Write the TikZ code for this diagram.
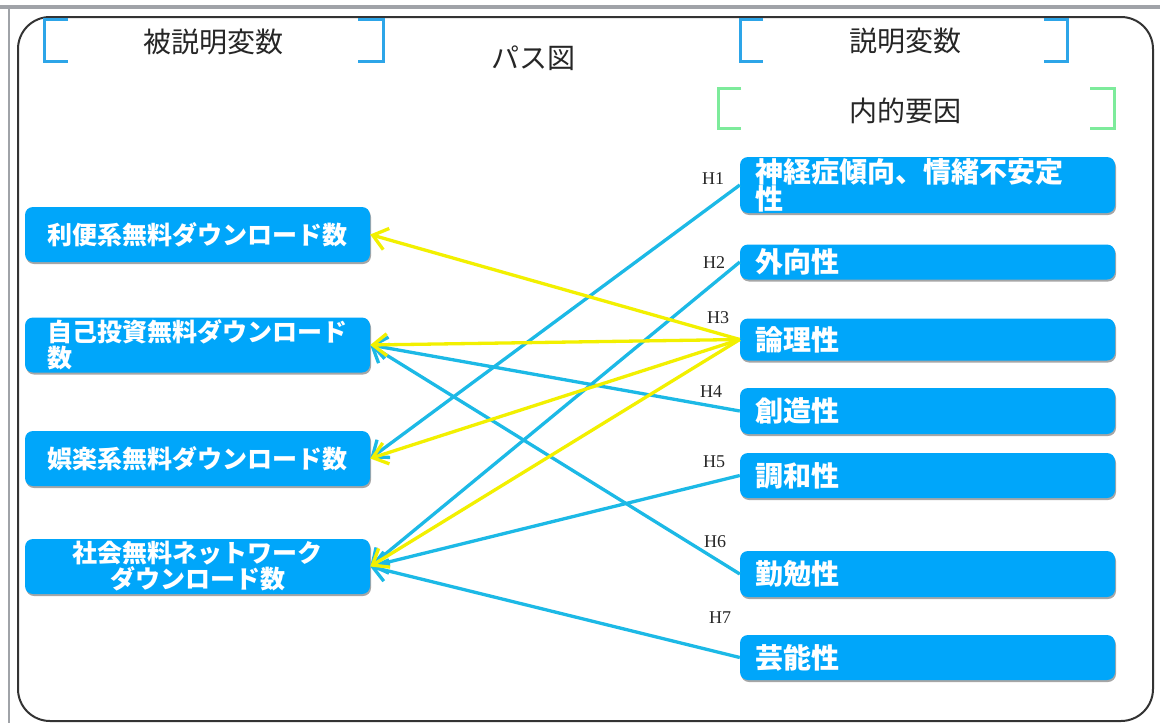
\documentclass[tikz,border=0pt]{standalone}
\usepackage{fontspec}
\newfontfamily\jp{Noto Sans CJK JP}
\newfontfamily\hfont{Liberation Serif}
\usetikzlibrary{arrows.meta,shadows}
\definecolor{nodeblue}{RGB}{0,166,250}
\definecolor{lineblue}{RGB}{28,185,230}
\definecolor{lineyellow}{RGB}{242,240,0}
\definecolor{brblue}{RGB}{45,165,232}
\definecolor{brgreen}{RGB}{125,235,155}
\definecolor{framegrey}{RGB}{160,163,168}
\begin{document}
\begin{tikzpicture}[x=1pt,y=-1pt,
  boxshadow/.style={drop shadow={shadow xshift=1pt,shadow yshift=-2pt,opacity=0.35,fill=black}},
  lnode/.style={fill=nodeblue, rounded corners=8pt, minimum width=345pt, minimum height=55pt,
    inner sep=0pt, text=white, font=\jp\bfseries\fontsize{25}{26}\selectfont, align=center, boxshadow},
  rnode/.style={fill=nodeblue, rounded corners=8pt, text width=345pt, inner xsep=15pt, inner ysep=0pt,
    text=white, font=\jp\bfseries\fontsize{28}{27}\selectfont, align=left, boxshadow},
  hlab/.style={font=\hfont\fontsize{18}{18}\selectfont, text=black!85, inner sep=0pt},
  head/.style={font=\jp\fontsize{28}{28}\selectfont, text=black!85, inner sep=0pt},
  barrow/.style={draw=lineblue, line width=3.3pt, -{Straight Barb[length=14pt,width=22pt]}},
  yarrow/.style={draw=lineyellow, line width=3.3pt, -{Straight Barb[length=14pt,width=22pt]}},
  bracketblue/.style={draw=brblue, line width=3pt},
  bracketgreen/.style={draw=brgreen, line width=3pt}]
\useasboundingbox (0,0) rectangle (1160,723);
\fill[white] (0,0) rectangle (1160,723);
% frame
\fill[framegrey] (0,5) rectangle (1160,9);
\fill[framegrey] (8,9) rectangle (10,723);
\draw[black!80, line width=2pt, rounded corners=32pt] (18,17) rectangle (1153,721);
% headers
\draw[bracketblue] (68,19) -- (44,19) -- (44,61) -- (68,61);
\draw[bracketblue] (358,19) -- (383,19) -- (383,61) -- (358,61);
\node[head] (hdep) at (213,42) {被説明変数};
\node[head] (htitle) at (533,58) {パス図};
\draw[bracketblue] (763,19) -- (740,19) -- (740,61) -- (763,61);
\draw[bracketblue] (1044,19) -- (1067,19) -- (1067,61) -- (1044,61);
\node[head] (hexp) at (905,41) {説明変数};
\draw[bracketgreen] (741,88) -- (718,88) -- (718,128) -- (741,128);
\draw[bracketgreen] (1090,88) -- (1114,88) -- (1114,128) -- (1090,128);
\node[head] (hint) at (905,111) {内的要因};
% left nodes
\node[lnode] (l1) at (197.5,234.5) {利便系無料ダウンロード数};
\node[lnode, align=left] (l2) at (197.5,345) {自己投資無料ダウンロード\\数};
\node[lnode] (l3) at (197.5,458.5) {娯楽系無料ダウンロード数};
\node[lnode] (l4) at (197.5,566.5) {社会無料ネットワーク\\ダウンロード数};
% right nodes
\node[rnode, minimum height=56pt] (n1) at (927.5,185) {神経症傾向、情緒不安定\\性};
\node[rnode, minimum height=35pt] (n2) at (927.5,262) {外向性};
\node[rnode, minimum height=42pt] (n3) at (927.5,339.5) {論理性};
\node[rnode, minimum height=46pt] (n4) at (927.5,411) {創造性};
\node[rnode, minimum height=45pt] (n5) at (927.5,475.5) {調和性};
\node[rnode, minimum height=46pt] (n6) at (927.5,574) {勤勉性};
\node[rnode, minimum height=45pt] (n7) at (927.5,657.5) {芸能性};
% H labels
\node[hlab] (h1) at (713,179) {H1};
\node[hlab] (h2) at (714,263) {H2};
\node[hlab] (h3) at (718,318) {H3};
\node[hlab] (h4) at (711,392) {H4};
\node[hlab] (h5) at (714,462) {H5};
\node[hlab] (h6) at (715,542) {H6};
\node[hlab] (h7) at (720,618) {H7};
% blue paths
\draw[barrow] (n1.west) -- (l3.east);
\draw[barrow] (n2.west) -- (l4.east);
\draw[barrow] (n4.west) -- (l2.east);
\draw[barrow] (n5.west) -- (l4.east);
\draw[barrow] (n6.west) -- (l2.east);
\draw[barrow] (n7.west) -- (l4.east);
% yellow paths
\draw[yarrow] (n3.west) -- (l1.east);
\draw[yarrow] (n3.west) -- (l2.east);
\draw[yarrow] (n3.west) -- (l3.east);
\draw[yarrow] (n3.west) -- (l4.east);
\end{tikzpicture}
\end{document}
